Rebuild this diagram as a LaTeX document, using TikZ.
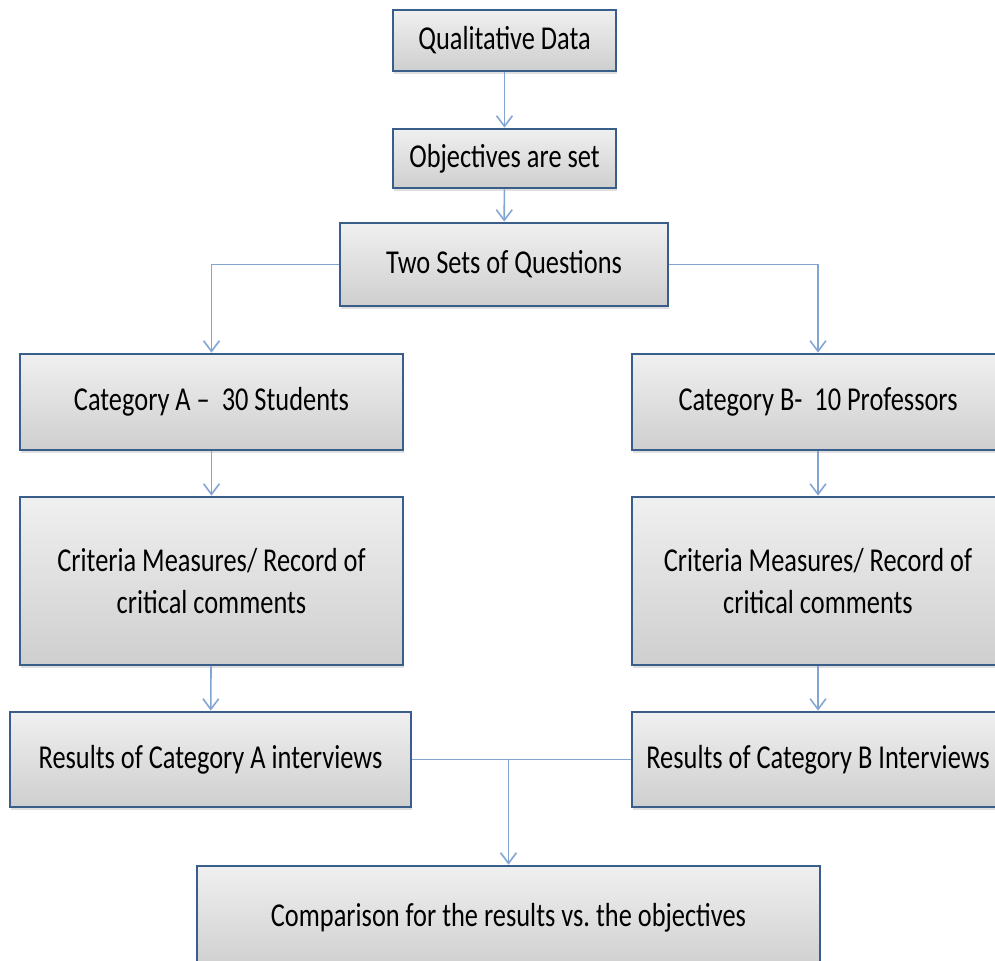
\documentclass[tikz,border=0pt]{standalone}
\usepackage{fontspec}
\newfontfamily\boxfont{Carlito}[FakeStretch=0.79, Ligatures=TeX]
\usepackage{tikz}
\usetikzlibrary{arrows.meta, positioning, shadows}
\usepackage{xcolor}
\definecolor{boxline}{RGB}{58,94,140}
\definecolor{flowline}{RGB}{130,165,212}
\frenchspacing

\begin{document}
\begin{tikzpicture}[
    stagebox/.style={rectangle, draw=boxline, line width=1.6pt,
                     top color=gray!12, bottom color=gray!38,
                     drop shadow={opacity=0.25, shadow xshift=0.6pt, shadow yshift=-1.6pt},
                     align=center, inner sep=3pt,
                     font={\boxfont\fontsize{19}{24}\selectfont}},
    flow/.style={draw=flowline, line width=0.9pt,
                 -{Straight Barb[length=6pt, width=9pt]}},
    link/.style={draw=flowline, line width=0.9pt},
]
  \useasboundingbox (0,0) rectangle (19.9,-19.2);
  \clip (0,0) rectangle (19.9,-19.2);

  % ---- top of the flow ----
  \node[stagebox, minimum width=4.46cm, minimum height=1.22cm] (qual) at (10.09, -0.81) {Qualitative Data};
  \node[stagebox, minimum width=4.46cm, minimum height=1.18cm] (obj)  at (10.09, -3.17) {Objectives are set};
  \node[stagebox, minimum width=6.56cm, minimum height=1.66cm] (two)  at (10.08, -5.29) {Two Sets of Questions};

  % ---- category A column ----
  \node[stagebox, minimum width=7.66cm, minimum height=1.92cm] (catA)  at (4.23, -8.04)  {Category A –\ \ 30 Students};
  \node[stagebox, minimum width=7.66cm, minimum height=3.36cm] (critA) at (4.23, -11.62) {Criteria Measures/ Record of\\critical comments};
  \node[stagebox, minimum width=8.02cm, minimum height=1.90cm] (resA)  at (4.21, -15.19) {Results of Category A interviews};

  % ---- category B column ----
  \node[stagebox, minimum width=7.44cm, minimum height=1.92cm] (catB)  at (16.36, -8.04)  {Category B-\ \ 10 Professors};
  \node[stagebox, minimum width=7.44cm, minimum height=3.36cm] (critB) at (16.36, -11.62) {Criteria Measures/ Record of\\critical comments};
  \node[stagebox, minimum width=7.44cm, minimum height=1.90cm] (resB)  at (16.36, -15.19) {Results of Category B Interviews};

  % ---- bottom ----
  \node[stagebox, minimum width=12.46cm, minimum height=2.08cm] (comp) at (10.17, -18.36) {Comparison for the results vs. the objectives};

  % ---- connectors ----
  \draw[flow] (qual) -- (obj);
  \draw[flow] (obj) -- (two);
  \draw[flow] (two.west) -| (catA.north);
  \draw[flow] (two.east) -| (catB.north);
  \draw[flow] (catA) -- (critA);
  \draw[flow] (catB) -- (critB);
  \draw[flow] (critA) -- (resA);
  \draw[flow] (critB) -- (resB);

  % results meet and go down
  \coordinate (join) at (resA.east -| comp.north);
  \draw[link] (resA.east) -- (resB.west);
  \draw[flow] (join) -- (comp.north);
\end{tikzpicture}
\end{document}
